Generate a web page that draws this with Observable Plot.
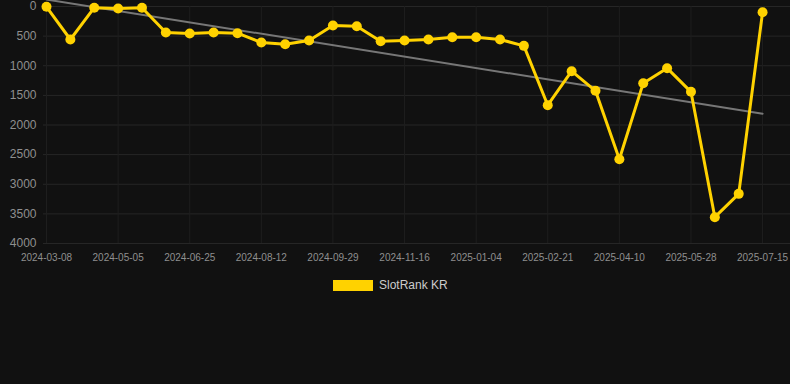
<!DOCTYPE html>
<html>
<head>
<meta charset="utf-8">
<script src="https://cdn.jsdelivr.net/npm/d3@7"></script>
<script src="https://cdn.jsdelivr.net/npm/@observablehq/plot@0.6"></script>
<style>
  html, body { margin: 0; padding: 0; background: #111111; width: 790px; height: 384px; overflow: hidden; }
  #chart svg { display: block; }
  .legend { display: flex; align-items: center; margin-top: 13px; margin-left: 333px; font-family: Arial, "Liberation Sans", sans-serif; font-size: 12px; color: #cccccc; }
  .legend .sw { width: 40px; height: 11px; background: #FFD200; margin-right: 6px; }
</style>
</head>
<body>
<div id="chart"></div>
<div class="legend"><div class="sw"></div><span>SlotRank KR</span></div>
<script>
const dates = [
  "2024-03-08","2024-03-27","2024-04-17","2024-05-05","2024-05-22","2024-06-08",
  "2024-06-25","2024-07-11","2024-07-27","2024-08-12","2024-08-28","2024-09-13",
  "2024-09-29","2024-10-15","2024-10-31","2024-11-16","2024-12-02","2024-12-19",
  "2025-01-04","2025-01-20","2025-02-05","2025-02-21","2025-03-09","2025-03-25",
  "2025-04-10","2025-04-26","2025-05-12","2025-05-28","2025-06-13","2025-06-29",
  "2025-07-15"
];
const ranks = [
  5, 557, 20, 34, 22, 439, 456, 439, 450, 608, 636, 574, 321, 332, 585,
  574, 557, 518, 518, 557, 664, 1666, 1092, 1423, 2577, 1294, 1041, 1440, 3556, 3162, 96
];
const yTicks = [0, 500, 1000, 1500, 2000, 2500, 3000, 3500, 4000];
const xTickIdx = d3.range(0, dates.length, 3);

const data = dates.map((d, i) => ({i, date: d, rank: ranks[i]}));

const chart = Plot.plot({
  width: 790,
  height: 265,
  marginLeft: 43,
  marginRight: 0,
  marginTop: 6,
  marginBottom: 22,
  style: {background: "#111111", color: "#8a8a8a", fontFamily: "Arial, 'Liberation Sans', sans-serif"},
  x: {domain: [-0.126, 31.17], label: null},
  y: {domain: [0, 4000], reverse: true, label: null},
  marks: [
    Plot.ruleY(yTicks, {stroke: "#262626", strokeWidth: 1}),
    Plot.ruleX(xTickIdx, {stroke: "#1e1e1e", strokeWidth: 1}),
    Plot.axisY({ticks: yTicks, tickFormat: d => String(d), tickSize: 0, tickPadding: 7, fontSize: 12, fill: "#8f8f8f"}),
    Plot.axisX({ticks: xTickIdx, tickFormat: i => dates[i], tickSize: 0, tickPadding: 10, fontSize: 10, fill: "#8f8f8f"}),
    Plot.linearRegressionY(data, {x: "i", y: "rank", ci: 0, stroke: "#777777", strokeWidth: 2}),
    Plot.line(data, {x: "i", y: "rank", stroke: "#FFD200", strokeWidth: 3}),
    Plot.dot(data, {x: "i", y: "rank", r: 5, fill: "#FFD200", stroke: "none"})
  ]
});
document.getElementById("chart").appendChild(chart);
</script>
</body>
</html>
